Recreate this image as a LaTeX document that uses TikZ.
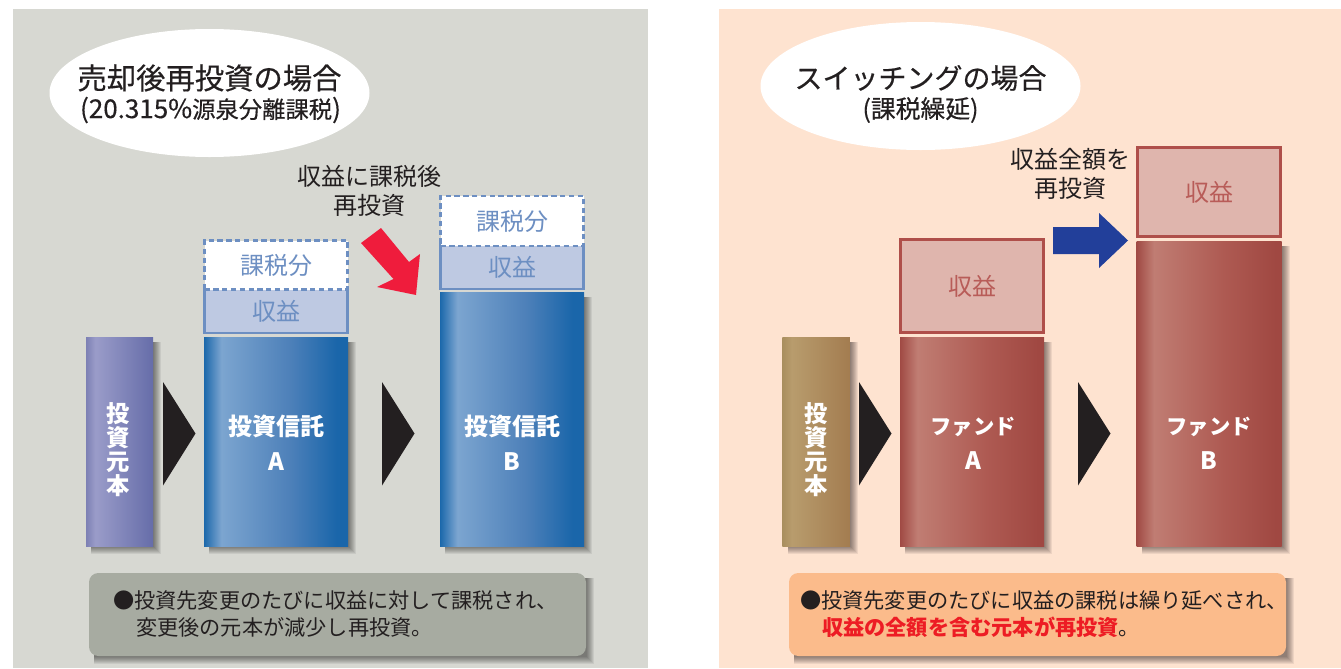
\documentclass[tikz,border=0pt]{standalone}
\usepackage{fontspec}
\setmainfont{Noto Sans CJK JP}
\newfontfamily\cjkm{Noto Sans CJK JP}[FakeBold=0.4]
\definecolor{panelL}{HTML}{D7D8D2}
\definecolor{panelR}{HTML}{FEE3D0}
\definecolor{noteL}{HTML}{A7ABA1}
\definecolor{noteR}{HTML}{FBBB8B}
\definecolor{ink}{HTML}{231F20}
\definecolor{blueln}{HTML}{6D8FC2}
\definecolor{bluefl}{HTML}{BEC9E2}
\definecolor{redln}{HTML}{AF4F4A}
\definecolor{redfl}{HTML}{DFB5AD}
\definecolor{redtx}{HTML}{B85C58}
\definecolor{arrowred}{HTML}{EF1C3C}
\definecolor{arrowblue}{HTML}{223F9A}
\definecolor{alertred}{HTML}{ED1C24}
\definecolor{ba}{HTML}{1B68AB}\definecolor{bb}{HTML}{7CA5D0}\definecolor{bc}{HTML}{4D80B9}\definecolor{bd}{HTML}{1A66AA}
\definecolor{pa}{HTML}{7D80B4}\definecolor{pb}{HTML}{9A9CC9}\definecolor{pc}{HTML}{666DA9}
\definecolor{ga}{HTML}{A98F5F}\definecolor{gb}{HTML}{B89C6D}\definecolor{gc}{HTML}{A37C50}
\definecolor{ra}{HTML}{A04A44}\definecolor{rb}{HTML}{C07D73}\definecolor{rc}{HTML}{AE5A52}\definecolor{rd}{HTML}{A04842}
\pgfdeclarehorizontalshading{barblue}{100bp}{color(0bp)=(ba); color(25bp)=(ba); color(31bp)=(bb); color(55bp)=(bc); color(71bp)=(bd); color(100bp)=(bd)}
\pgfdeclarehorizontalshading{barpurple}{100bp}{color(0bp)=(pa); color(25bp)=(pa); color(32bp)=(pb); color(75bp)=(pc); color(100bp)=(pc)}
\pgfdeclarehorizontalshading{bargold}{100bp}{color(0bp)=(ga); color(25bp)=(ga); color(32bp)=(gb); color(75bp)=(gc); color(100bp)=(gc)}
\pgfdeclarehorizontalshading{barred}{100bp}{color(0bp)=(ra); color(25bp)=(ra); color(31bp)=(rb); color(55bp)=(rc); color(73bp)=(rd); color(100bp)=(rd)}
\tikzset{
  every node/.style={inner sep=0pt, outer sep=0pt, text=ink},
  pxsize/.style 2 args={minimum width=#1*0.75pt, minimum height=#2*0.75pt},
  barlabel/.style={text=white, font=\fontsize{18}{26}\selectfont\bfseries, align=center},
  stacklabel/.style={text=white, font=\fontsize{17.5}{18}\selectfont\bfseries, align=center},
  taxbox/.style={draw=blueln, line width=1.6pt, dashed, dash pattern=on 4pt off 2.6pt, fill=white, text=blueln, font=\fontsize{18}{20}\selectfont},
  gainbox/.style={draw=blueln, line width=1.6pt, fill=bluefl, text=blueln, font=\fontsize{18}{20}\selectfont},
  redgain/.style={draw=redln, line width=1.6pt, fill=redfl, text=redtx, font=\fontsize{18}{20}\selectfont},
  titletext/.style={font=\fontsize{22}{26}\selectfont\cjkm},
  subtext/.style={font=\fontsize{17.5}{20}\selectfont\cjkm},
  calltext/.style={font=\fontsize{18}{22}\selectfont, align=center},
  notetext/.style={anchor=west, font=\fontsize{15.9}{18}\selectfont},
  oval/.style={fill=white, draw=none},
  pointer/.style={fill=ink, draw=none},
}
\newcommand{\dn}[1]{\raisebox{-1.4pt}{#1}}
\newcommand{\softshade}[4]{%
  \foreach \g in {-5,-4,-3,-2,-1,0,1,2}{
    \fill[black, opacity=0.065] (#1+5,#2+5) rectangle (#3+3-\g,#4+3-\g);
  }}
\begin{document}
\begin{tikzpicture}[x=0.75pt,y=-0.75pt]
\useasboundingbox (0,0) rectangle (1341,668);
\fill[white] (0,0) rectangle (1341,668);
% panels
\fill[panelL] (13,9) rectangle (648,668);
\fill[panelR] (719,9) rectangle (1341,668);
% ellipses
\fill[oval] (209.5,93) ellipse [x radius=160, y radius=64];
\fill[oval] (920.5,86) ellipse [x radius=160, y radius=64];
\node[titletext] (t1) at (209.5,78) {売却後再投資の場合};
\node[subtext] (s1) at (210.5,110) {{\fontsize{19.5}{20}\selectfont (20.315\%}源泉分離課税{\fontsize{19.5}{20}\selectfont )}};
\node[titletext, font=\fontsize{21}{26}\selectfont\cjkm] (t2) at (920.5,78) {スイッチングの場合};
\node[subtext, font=\fontsize{18.6}{20}\selectfont\cjkm] (s2) at (920.5,110) {(課税繰延)};
% left shadows
\softshade{86}{337}{153}{546}
\softshade{204}{337}{348}{546}
\softshade{440}{292}{584}{546}
\softshade{89}{573}{586}{656}
% left bars
\node[pxsize={67}{209}, shading=barpurple] (pL) at (119.5,441.5) {};
\node[stacklabel, anchor=center] (pLt) at (118,449.5) {投\\資\\元\\本};
\node[pxsize={144}{209}, shading=barblue, barlabel] (aL) at (276,441.5) {};
\node[barlabel] (aLt) at (276,443) {投資信託\\A};
\node[pxsize={144}{254}, shading=barblue] (bL) at (512,419) {};
\node[barlabel] (bLt) at (512,443) {投資信託\\B};
% left stacked boxes
\node[gainbox, pxsize={143}{44}] (gA) at (276,311) {\dn{収益}};
\node[taxbox, pxsize={143}{49}] (xA) at (276,265) {\dn{課税分}};
\node[gainbox, pxsize={143}{44}] (gB) at (512,267) {\dn{収益}};
\node[taxbox, pxsize={143}{50}] (xB) at (512,221) {\dn{課税分}};
% left pointers
\fill[pointer] (163,382) -- (195.5,433.5) -- (163,485.5) -- cycle;
\fill[pointer] (382,382) -- (414.5,433.5) -- (382,485.5) -- cycle;
\fill[arrowred] (381,228) -- (361,243) -- (393.5,279) -- (377,287) -- (416,295) -- (420,254) -- (409,262) -- cycle;
\node[calltext] (cL) at (369.5,191) {収益に課税後\\再投資};
% left note
\fill[noteL, rounded corners=7pt] (89,573) rectangle (586,656);
\node[notetext] (n1a) at (113,600) {●投資先変更のたびに収益に対して課税され、};
\node[notetext] (n1b) at (136,627) {変更後の元本が減少し再投資。};
% right shadows
\softshade{782.5}{337}{850}{546}
\softshade{900}{337}{1044}{546}
\softshade{1136.5}{241}{1281.5}{546}
\softshade{789}{573}{1286}{656}
% right bars
\node[pxsize={67.5}{209}, shading=bargold] (pR) at (816.2,441.5) {};
\node[stacklabel] (pRt) at (816,449.5) {投\\資\\元\\本};
\node[pxsize={144}{209}, shading=barred] (aR) at (972,441.5) {};
\node[barlabel, font=\fontsize{16}{26}\selectfont\bfseries] (aRt) at (973,443) {ファンド\\\fontsize{18}{26}\selectfont A};
\node[pxsize={145}{305}, shading=barred] (bR) at (1209,393.5) {};
\node[barlabel, font=\fontsize{16}{26}\selectfont\bfseries] (bRt) at (1209,443) {ファンド\\\fontsize{18}{26}\selectfont B};
% right gain boxes
\node[redgain, pxsize={143}{93}] (gRA) at (972,286) {\dn{収益}};
\node[redgain, pxsize={143}{89}] (gRB) at (1209,192) {\dn{収益}};
% right pointers
\fill[pointer] (859,382) -- (891.5,433.5) -- (859,485.5) -- cycle;
\fill[pointer] (1078,382) -- (1110.5,433.5) -- (1078,485.5) -- cycle;
\fill[arrowblue] (1053,227) -- (1099,227) -- (1099,213) -- (1128,240.5) -- (1099,268) -- (1099,254) -- (1053,254) -- cycle;
\node[calltext] (cR) at (1070.5,174) {収益全額を\\再投資};
% right note
\fill[noteR, rounded corners=7pt] (789,573) rectangle (1286,656);
\node[notetext] (n2a) at (800,600) {●投資先変更のたびに収益の課税は繰り延べされ、};
\node[notetext] (n2b) at (822,627) {\textcolor{alertred}{\bfseries 収益の全額を含む元本が再投資}。};
\end{tikzpicture}
\end{document}
